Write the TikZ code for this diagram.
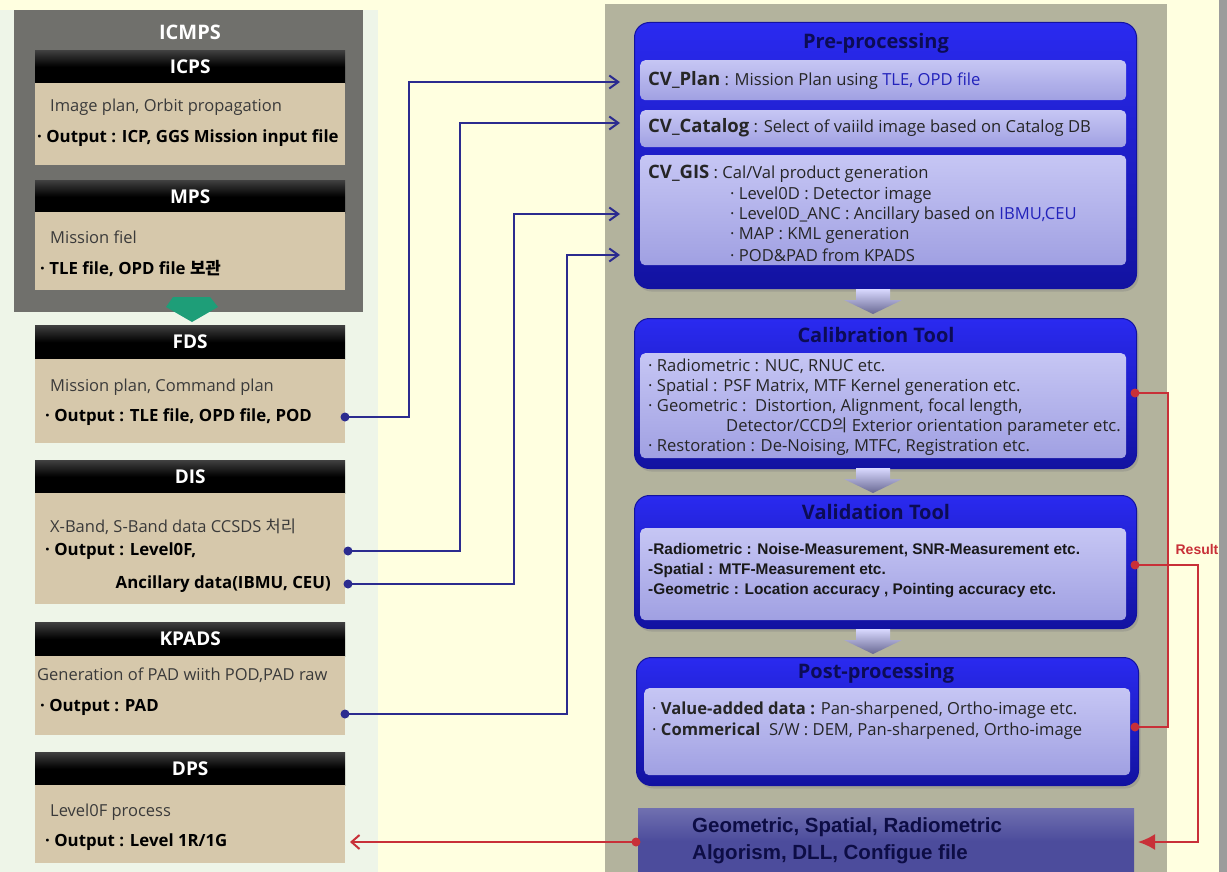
\documentclass[tikz,border=0pt]{standalone}
\usepackage{fontspec}
\setmainfont{Open Sans}
\newfontfamily\kr{Noto Sans CJK KR}
\newfontfamily\arialf{Liberation Sans}
\usetikzlibrary{arrows.meta,shadows}
\newcommand\myfs[1]{\fontsize{#1}{#1}\selectfont}
\newcommand\lblf{\bfseries\myfs{18.5}}
\definecolor{bgyellow}{HTML}{FFFFE0}
\definecolor{bgmint}{HTML}{EEF5E8}
\definecolor{panelgray}{HTML}{B3B39D}
\definecolor{edgegray}{HTML}{9C9C9C}
\definecolor{icmpsgray}{HTML}{70706C}
\definecolor{beige}{HTML}{D6C8AB}
\definecolor{txtgray}{HTML}{3A3A3A}
\definecolor{navyline}{HTML}{2B2B8F}
\definecolor{redline}{HTML}{C83038}
\definecolor{greenarr}{HTML}{1E9E78}
\definecolor{bluetop}{HTML}{2A2AF0}
\definecolor{bluebot}{HTML}{1212A0}
\definecolor{lavtop}{HTML}{C6C6F4}
\definecolor{lavbot}{HTML}{A0A0E2}
\definecolor{titlenavy}{HTML}{0C0C55}
\definecolor{bluetxt}{HTML}{2222BB}
\definecolor{botbox}{HTML}{4C4C9C}
\definecolor{bottxt}{HTML}{0D0D45}
\tikzset{
  hdr/.style={top color=black!75, bottom color=black, middle color=black, text=white, font=\bfseries\myfs{19}, inner sep=0pt, minimum width=310pt, minimum height=33pt, anchor=north west},
  bodybox/.style={fill=beige, inner sep=0pt, minimum width=310pt, anchor=north west},
  ltxt/.style={anchor=west, inner sep=0pt, font=\myfs{16.5}, text=txtgray},
  lbold/.style={anchor=west, inner sep=0pt, font=\bfseries\myfs{16.8}, text=black},
  outerbox/.style={rounded corners=15pt, top color=bluetop, bottom color=bluebot, draw=bluebot, line width=1pt, inner sep=0pt, anchor=north west, minimum width=502pt, drop shadow={opacity=0.35, shadow xshift=2pt, shadow yshift=-3pt}},
  innerbox/.style={rounded corners=5pt, top color=lavtop, bottom color=lavbot, inner sep=0pt, anchor=north west, minimum width=486pt},
  ttl/.style={font=\bfseries\myfs{20}, text=titlenavy, inner sep=0pt},
  rtxt/.style={anchor=west, inner sep=0pt, font=\myfs{16.6}, text=black!85},
  vtxt/.style={anchor=west, inner sep=0pt, font=\arialf\bfseries\myfs{15.4}, text=black!90},
  navyconn/.style={draw=navyline, line width=2.2pt, -{Straight Barb[length=9pt,width=13pt,line width=2pt]}},
  redconn/.style={draw=redline, line width=2pt},
  navydot/.style={fill=navyline},
  reddot/.style={fill=redline},
  downarr/.pic={\shade[top color=white!85!blue, bottom color=black!35!lavbot] (-17,0) -- (17,0) -- (17,11) -- (29,11) -- (0,25) -- (-29,11) -- (-17,11) -- cycle;}
}
\begin{document}
\begin{tikzpicture}[x=1pt,y=-1pt]
\useasboundingbox (0,0) rectangle (1227,872);
% backgrounds
\fill[bgyellow] (0,0) rectangle (1227,872);
\fill[bgmint] (0,10) rectangle (378,872);
\fill[panelgray] (605,4) rectangle (1167,872);
\fill[edgegray] (1219,0) rectangle (1227,872);

% ---------- left column ----------
\node[fill=icmpsgray, minimum width=349pt, minimum height=302pt, anchor=north west, inner sep=0pt] (icmps) at (14,10) {};
\node[font=\bfseries\myfs{20}, text=white, inner sep=0pt] (icmpst) at (190,32) {ICMPS};

\node[hdr] (icpsh) at (35,50) {ICPS};
\node[bodybox, minimum height=82pt] (icpsb) at (35,83) {};
\node[ltxt] (icps1) at (50,107) {Image plan, Orbit propagation};
\node[lbold] (icps2) at (37,138) {· Output : ICP, GGS Mission input file};

\node[hdr] (mpsh) at (35,180) {MPS};
\node[bodybox, minimum height=78pt] (mpsb) at (35,212) {};
\node[ltxt] (mps1) at (50,237) {Mission fiel};
\node[lbold] (mps2) at (40,268) {· TLE file, OPD file {\kr 보관}};

\fill[greenarr] (173,297) -- (210,297) -- (218,307) -- (192,322) -- (166,307) -- cycle;

\node[hdr, minimum height=34pt] (fdsh) at (35,325) {FDS};
\node[bodybox, minimum height=84pt] (fdsb) at (35,359) {};
\node[ltxt] (fds1) at (50,387) {Mission plan, Command plan};
\node[lbold] (fds2) at (45,417) {· Output : TLE file, OPD file, POD};

\node[hdr] (dish) at (35,460) {DIS};
\node[bodybox, minimum height=111pt] (disb) at (35,493) {};
\node[ltxt] (dis1) at (50,527) {X-Band, S-Band data CCSDS {\kr 처리}};
\node[lbold] (dis2) at (45,551) {· Output : Level0F,};
\node[lbold, anchor=east] (dis3) at (331,584) {Ancillary data(IBMU, CEU)};

\node[hdr, minimum height=34pt] (kpadsh) at (35,622) {KPADS};
\node[bodybox, minimum height=79pt] (kpadsb) at (35,656) {};
\node[ltxt] (kpads1) at (37,675) {Generation of PAD wiith POD,PAD raw};
\node[lbold] (kpads2) at (40,707) {· Output : PAD};

\node[hdr] (dpsh) at (35,752) {DPS};
\node[bodybox, minimum height=78pt] (dpsb) at (35,785) {};
\node[ltxt] (dps1) at (50,812) {Level0F process};
\node[lbold] (dps2) at (45,842) {· Output : Level 1R/1G};

% ---------- right panel ----------
\node[outerbox, minimum height=266pt] (pre) at (634,22) {};
\node[ttl] (pret) at (876,43) {Pre-processing};
\node[innerbox, minimum height=40pt] (cvplan) at (640,60) {};
\node[rtxt] (cvplant) at (648,80) {{\lblf CV\_Plan} : Mission Plan using \textcolor{bluetxt}{TLE, OPD file}};
\node[innerbox, minimum height=37pt] (cvcat) at (640,110) {};
\node[rtxt] (cvcatt) at (648,128) {{\lblf CV\_Catalog} : Select of vaiild image based on Catalog DB};
\node[innerbox, minimum height=110pt] (cvgis) at (640,155) {};
\node[rtxt] (gis0) at (648,174) {{\lblf CV\_GIS} : Cal/Val product generation};
\node[rtxt] (gis1) at (730,195) {· Level0D : Detector image};
\node[rtxt] (gis2) at (730,215) {· Level0D\_ANC : Ancillary based on \textcolor{bluetxt}{IBMU,CEU}};
\node[rtxt] (gis3) at (730,235) {· MAP : KML generation};
\node[rtxt] (gis4) at (730,255) {· POD\&PAD from KPADS};

\pic at (873,289) {downarr};

\node[outerbox, minimum height=150pt] (cal) at (634,318) {};
\node[ttl] (calt) at (876,335) {Calibration Tool};
\node[innerbox, minimum height=105pt] (calin) at (640,353) {};
\node[rtxt] (cal1) at (648,366) {· Radiometric : NUC, RNUC etc.};
\node[rtxt] (cal2) at (648,387) {· Spatial : PSF Matrix, MTF Kernel generation etc.};
\node[rtxt] (cal3) at (648,407) {· Geometric :\ \ Distortion, Alignment, focal length,};
\node[rtxt] (cal4) at (726,427) {Detector/CCD{\kr 의} Exterior orientation parameter etc.};
\node[rtxt] (cal5) at (648,447) {· Restoration : De-Noising, MTFC, Registration etc.};

\pic at (873,468) {downarr};

\node[outerbox, minimum height=133pt] (val) at (634,495) {};
\node[ttl] (valt) at (876,512) {Validation Tool};
\node[innerbox, minimum height=92pt] (valin) at (640,528) {};
\node[vtxt] (val1) at (648,550) {-Radiometric : Noise-Measurement, SNR-Measurement etc.};
\node[vtxt] (val2) at (648,571) {-Spatial : MTF-Measurement etc.};
\node[vtxt] (val3) at (648,591) {-Geometric : Location accuracy , Pointing accuracy etc.};

\pic at (873,629) {downarr};

\node[outerbox, minimum height=128pt] (post) at (636,657) {};
\node[ttl] (postt) at (876,673) {Post-processing};
\node[innerbox, minimum height=87pt] (postin) at (644,688) {};
\node[rtxt] (post1) at (652,710) {· {\bfseries Value-added data :} Pan-sharpened, Ortho-image etc.};
\node[rtxt] (post2) at (652,731) {· {\bfseries Commerical}\ \ S/W : DEM, Pan-sharpened, Ortho-image};

\node[top color=botbox!80!white, bottom color=botbox, middle color=botbox, minimum width=496pt, minimum height=66pt, anchor=north west, inner sep=0pt] (algo) at (638,808) {};
\node[anchor=west, inner sep=0pt, font=\arialf\bfseries\myfs{20.5}, text=bottxt] (algo1) at (692,827) {Geometric, Spatial, Radiometric};
\node[anchor=west, inner sep=0pt, font=\arialf\bfseries\myfs{20.5}, text=bottxt] (algo2) at (692,854) {Algorism, DLL, Configue file};

% ---------- navy connectors ----------
\coordinate (fdsdot) at (345,417);
\coordinate (disdotA) at (348,551);
\coordinate (disdotB) at (348,584);
\coordinate (kpadsdot) at (345,714);
\coordinate (planin) at (620,82);
\coordinate (catin) at (620,123);
\coordinate (gisinA) at (620,214);
\coordinate (gisinB) at (620,255);
\draw[navyconn] (fdsdot) -- ++(64,0) |- (planin);
\draw[navyconn] (disdotA) -- ++(112,0) |- (catin);
\draw[navyconn] (disdotB) -- ++(166,0) |- (gisinA);
\draw[navyconn] (kpadsdot) -- ++(222,0) |- (gisinB);
\foreach \p in {fdsdot,disdotA,disdotB,kpadsdot} \fill[navydot] (\p) circle (4.5pt);

% ---------- red connectors ----------
\coordinate (caldot) at (1135,393);
\coordinate (postdot) at (1135,727);
\coordinate (valdot) at (1135,565);
\coordinate (algoin) at (1138,842);
\coordinate (algodot) at (636,842);
\coordinate (dpsin) at (350,842);
\draw[redconn] (caldot) -- ++(33,0) |- (postdot);
\draw[redconn, -{Latex[length=17pt,width=16pt]}] (valdot) -- ++(63,0) |- (algoin);
\draw[redconn, -{Straight Barb[length=8pt,width=14pt,line width=2pt]}] (algodot) -- (dpsin);
\foreach \p in {caldot,postdot,valdot,algodot} \fill[reddot] (\p) circle (4.5pt);
\node[font=\arialf\bfseries\myfs{14}, text=redline, inner sep=0pt] (result) at (1197,549) {Result};
\end{tikzpicture}
\end{document}
